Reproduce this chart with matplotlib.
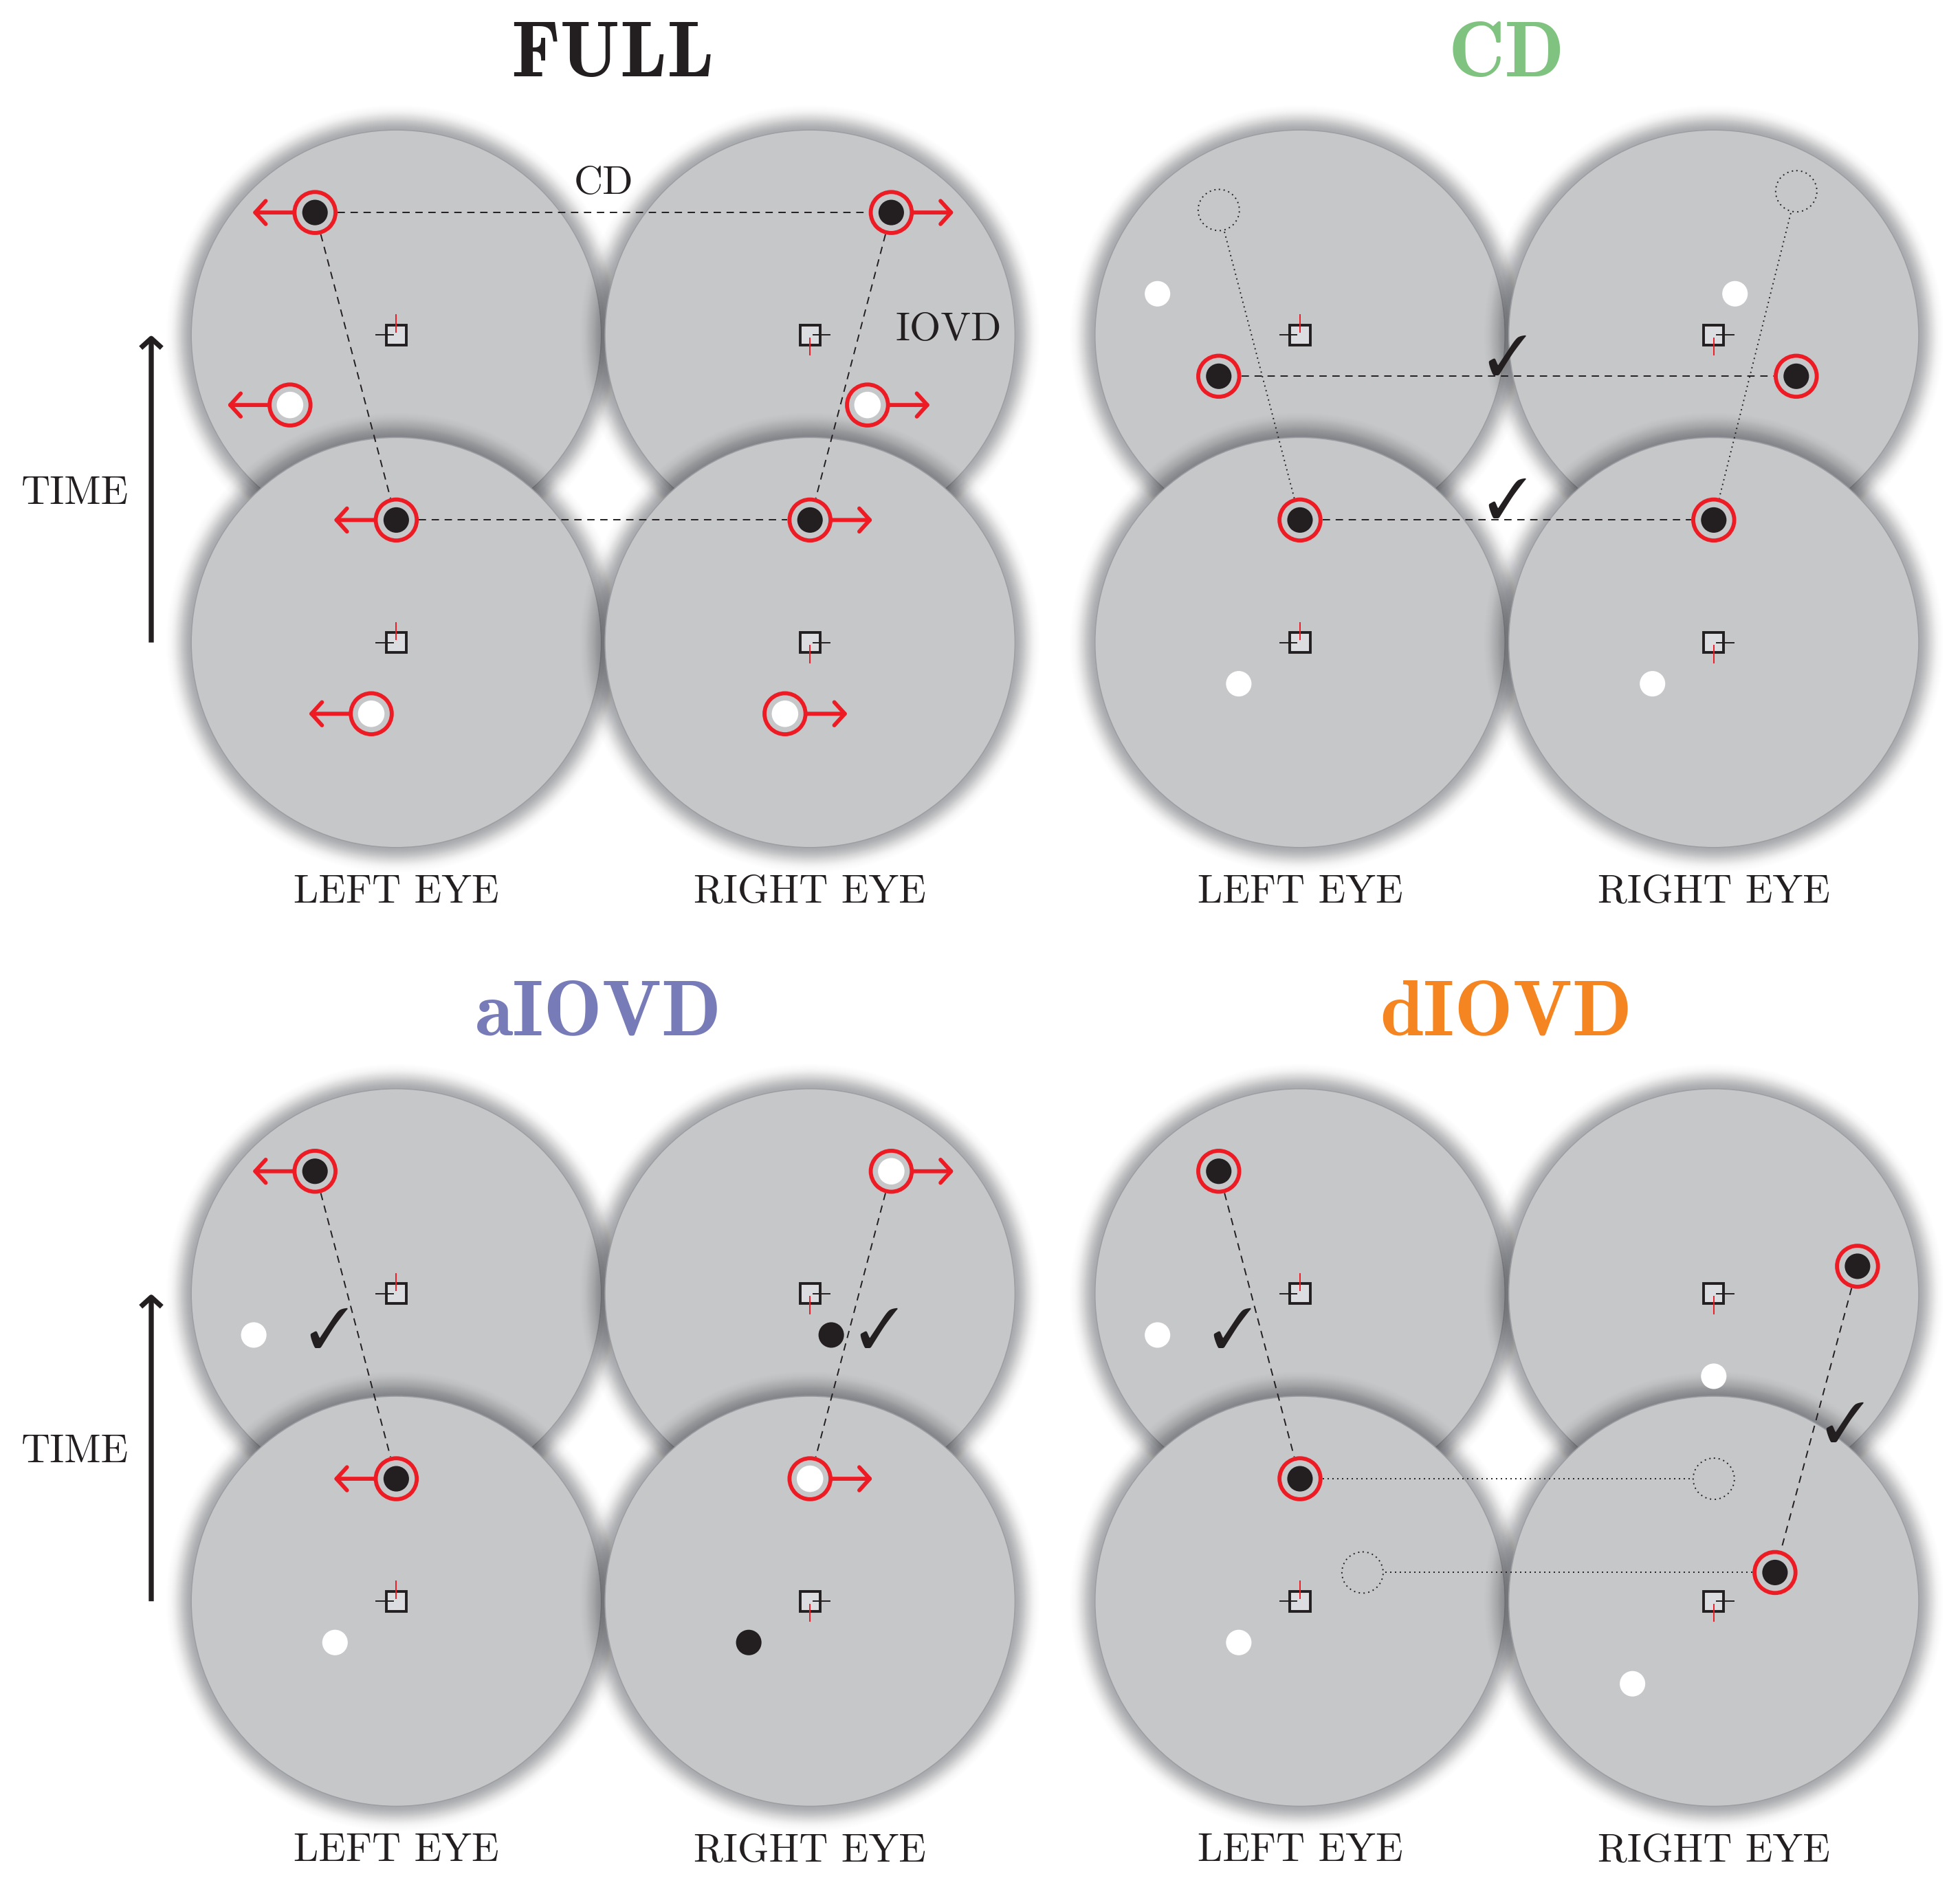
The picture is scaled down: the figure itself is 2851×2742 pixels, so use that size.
import matplotlib
matplotlib.use("Agg")
import matplotlib.pyplot as plt
from matplotlib import patches
import numpy as np

# drawing units: the reference at 1568 x 1508, saved at 2851 x 2742 px
W, H = 1568.0, 1508.0

RED = "#ed1c24"
INK = "#231f20"

titles = ["FULL", "CD", "aIOVD", "dIOVD"]
title_colors = ["#231f20", "#80c27f", "#777cb8", "#f48521"]
title_x = [490, 1205, 479, 1205]
title_y = [61, 61, 828, 828]

# eye discs: x of left / right eye, y of later / earlier frame, per panel
eye_x = [[317, 648], [1040, 1371], [317, 648], [1040, 1371]]
frame_y = [[268, 514], [268, 514], [1035, 1281], [1035, 1281]]
eye_r = 164
eye_labels = ["LEFT EYE", "RIGHT EYE"]

# dots (x, y)
ringed_black = [(252, 170), (713, 170), (317, 416), (648, 416),
                (975, 301), (1437, 301), (1040, 416), (1371, 416),
                (252, 937), (317, 1183),
                (975, 937), (1486, 1013), (1040, 1183), (1420, 1258)]
ringed_white = [(232, 324), (694, 324), (297, 571), (628, 571),
                (713, 937), (648, 1183)]
plain_white = [(926, 235), (1388, 235), (991, 547), (1322, 547),
               (203, 1068), (268, 1314),
               (926, 1068), (1371, 1101), (991, 1314), (1306, 1347)]
plain_black = [(665, 1068), (599, 1314)]
ghosts = [(975, 168), (1437, 153), (1090, 1258), (1371, 1183)]

# motion arrows on ringed dots: x, y, direction
motion = [(252, 170, -1), (713, 170, 1), (317, 416, -1), (648, 416, 1),
          (232, 324, -1), (694, 324, 1), (297, 571, -1), (628, 571, 1),
          (252, 937, -1), (713, 937, 1), (317, 1183, -1), (648, 1183, 1)]

dashed = [((252, 170), (713, 170)), ((252, 170), (317, 416)),
          ((713, 170), (648, 416)), ((317, 416), (648, 416)),
          ((975, 301), (1437, 301)), ((1040, 416), (1371, 416)),
          ((252, 937), (317, 1183)), ((713, 937), (648, 1183)),
          ((975, 937), (1040, 1183)), ((1486, 1013), (1420, 1258))]
dotted = [((975, 168), (1040, 416)), ((1437, 153), (1371, 416)),
          ((1040, 1183), (1371, 1183)), ((1090, 1258), (1420, 1258))]

checks = [(1206, 300), (1206, 414), (263, 1078), (703, 1078),
          (986, 1078), (1476, 1153)]

extra_labels = [("CD", 483, 155), ("IOVD", 759, 272)]
time_rows = [(268, 514), (1035, 1281)]

fig = plt.figure(figsize=(28.51, 27.42), dpi=100)
ax = fig.add_axes([0, 0, 1, 1])
ax.set_xlim(0, W)
ax.set_ylim(H, 0)
ax.axis("off")

serif = "cmr10"

# soft shadow: nested discs whose alphas give a gaussian-ish falloff
shade_d = np.linspace(26, 0.5, 48)
shade_t = 0.36 * np.exp(-(shade_d / 11.0) ** 2)
shade_a = []
prev = 0.0
for t in shade_t:
    shade_a.append(max(0.0, 1 - (1 - t) / (1 - prev)))
    prev = max(prev, t)


def eye_disc(x, y):
    for d, a in zip(shade_d, shade_a):
        ax.add_patch(patches.Circle((x, y), eye_r + d, fc="#30333b",
                                    ec="none", alpha=a, zorder=1))
    ax.add_patch(patches.Circle((x, y), eye_r, fc="#c6c7c9", ec="#9d9ea1",
                                lw=1.1, zorder=1))


def fixation(x, y, right):
    ax.add_patch(patches.Rectangle((x - 8, y - 8), 16, 16, fc="#dcdde0",
                                   ec=INK, lw=2.8, zorder=3))
    s = 1 if right else -1
    ax.plot([x + s * 2.5, x + s * 16], [y, y], color=INK, lw=1.4, zorder=4)
    ax.plot([x, x], [y + s * 2.5, y + s * 16], color=RED, lw=1.4, zorder=4)


for p in range(4):
    for fy in frame_y[p]:
        for k, ex in enumerate(eye_x[p]):
            eye_disc(ex, fy)
    for fy in frame_y[p]:
        for k, ex in enumerate(eye_x[p]):
            fixation(ex, fy, k == 1)
    ax.text(title_x[p], title_y[p], titles[p], color=title_colors[p],
            fontsize=82, family="cmb10", ha="center", va="baseline")
    for k, ex in enumerate(eye_x[p]):
        ax.text(ex, frame_y[p][1] + 208, eye_labels[k], color=INK, fontsize=42,
                family=serif, ha="center", va="baseline")


def link(a, b, style):
    (x0, y0), (x1, y1) = a, b
    d = np.hypot(x1 - x0, y1 - y0)
    ux, uy = (x1 - x0) / d, (y1 - y0) / d
    g = 18
    ax.plot([x0 + ux * g, x1 - ux * g], [y0 + uy * g, y1 - uy * g],
            color=INK, lw=1.4, linestyle=style, dash_capstyle="butt", zorder=5)


for a, b in dashed:
    link(a, b, (0, (5.5, 4.2)))
for a, b in dotted:
    link(a, b, (0, (1, 2.6)))

for x, y in ghosts:
    ax.add_patch(patches.Circle((x, y), 16.5, fill=False, ec=INK, lw=1.4,
                                linestyle=(0, (1, 2.6)), zorder=6))

for x, y in ringed_black:
    ax.add_patch(patches.Circle((x, y), 10.2, fc=INK, ec="none", zorder=7))
    ax.add_patch(patches.Circle((x, y), 16.4, fill=False, ec=RED, lw=4.2, zorder=7))
for x, y in ringed_white:
    ax.add_patch(patches.Circle((x, y), 10.6, fc="white", ec="none", zorder=7))
    ax.add_patch(patches.Circle((x, y), 16.4, fill=False, ec=RED, lw=4.2, zorder=7))
for x, y in plain_white:
    ax.add_patch(patches.Circle((x, y), 10.2, fc="white", ec="none", zorder=7))
for x, y in plain_black:
    ax.add_patch(patches.Circle((x, y), 10.2, fc=INK, ec="none", zorder=7))

for x, y, s in motion:
    ax.add_patch(patches.FancyArrowPatch(
        (x + s * 17.5, y), (x + s * 50, y),
        arrowstyle="->,head_length=0.5,head_width=0.55", mutation_scale=22,
        lw=4.2, color=RED, shrinkA=0, shrinkB=0, capstyle="round",
        joinstyle="round", zorder=8))

for x, y in checks:
    ax.text(x, y, "\u2713", fontsize=58, family=["STIXGeneral", "DejaVu Sans"],
            color=INK, ha="center", va="baseline", zorder=9)

for txt, x, y in extra_labels:
    ax.text(x, y, txt, fontsize=42, family=serif, color=INK,
            ha="center", va="baseline", zorder=9)

for top, bot in time_rows:
    ax.add_patch(patches.FancyArrowPatch(
        (121, bot), (121, top),
        arrowstyle="->,head_length=0.5,head_width=0.55", mutation_scale=20,
        lw=5.3, color=INK, shrinkA=0, shrinkB=0, capstyle="butt",
        joinstyle="round", zorder=8))
    ax.text(60, (top + bot) / 2 + 12, "TIME", fontsize=42, family=serif,
            color=INK, ha="center", va="baseline")

fig.savefig("out.png", dpi=100, facecolor="white")
